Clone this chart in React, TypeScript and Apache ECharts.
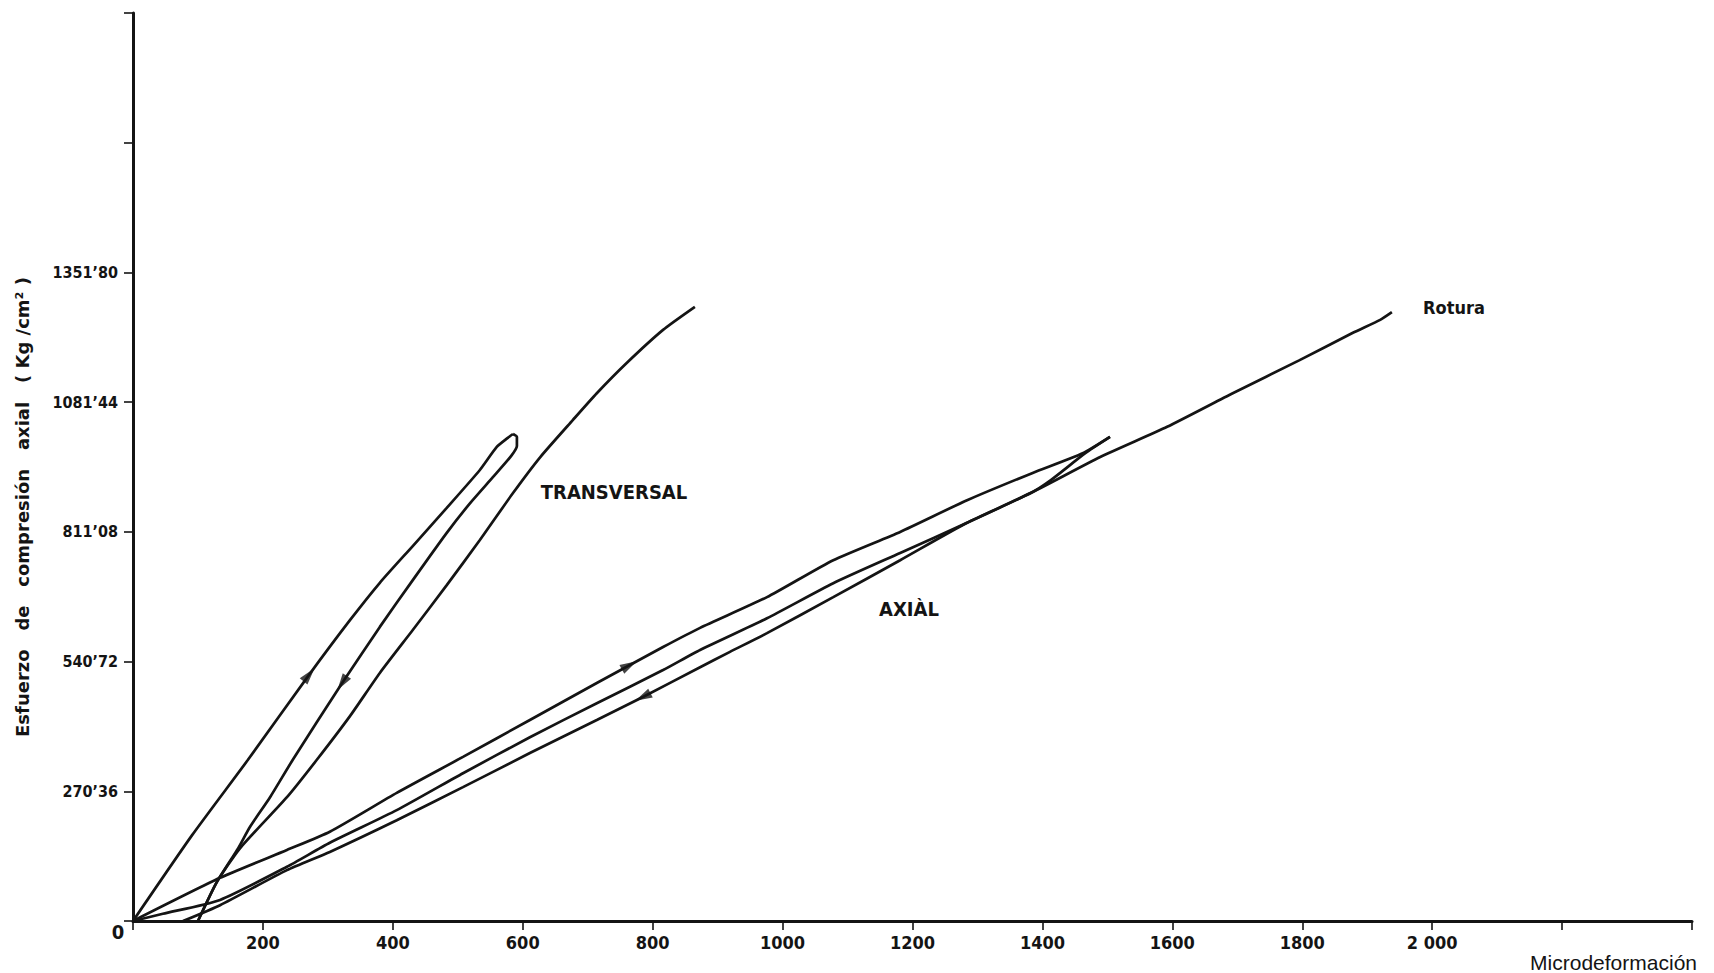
import React, { useEffect, useRef } from "react";
import * as echarts from "echarts";

// ---- axis definitions ----
const X_MIN = 0;
const X_MAX = 2400;
const X_STEP = 200;
const Y_MIN = 0;
const Y_STEP = 270.36;
const Y_MAX = 1892.52;
const yLabelledTicks = [270.36, 540.72, 811.08, 1081.44, 1351.8];

// ---- TRANSVERSAL: loading (to ~1010 kg/cm2) ----
const transLoadX = [0, 91, 177, 271, 334, 380, 431, 483, 534, 560, 577, 585];
const transLoadY = [0, 179, 336, 513, 627, 705, 782, 861, 940, 988, 1007, 1015];
// ---- TRANSVERSAL: unloading ----
const transUnloadX = [585, 591, 591, 582, 554, 519, 483, 431, 380, 322, 246, 211, 180, 162, 129, 100];
const transUnloadY = [1015, 1009, 990, 969, 925, 871, 809, 711, 613, 496, 336, 258, 196, 152, 81, 0];
// ---- TRANSVERSAL: reloading to failure ----
const transReloadX = [100, 129, 165, 237, 283, 334, 380, 431, 483, 534, 585, 627, 677, 714, 760, 816, 865];
const transReloadY = [0, 81, 152, 258, 336, 427, 517, 607, 700, 794, 892, 967, 1044, 1100, 1163, 1232, 1280];

// ---- AXIAL: loading ----
const axLoadX = [0, 134, 237, 303, 406, 508, 611, 714, 816, 873, 976, 1078, 1181, 1284, 1385, 1462, 1504];
const axLoadY = [0, 90, 148, 186, 267, 342, 419, 496, 571, 611, 675, 752, 811, 877, 934, 975, 1009];
// ---- AXIAL: unloading ----
const axUnloadX = [1504, 1466, 1413, 1382, 1284, 1181, 1078, 976, 919, 873, 785, 714, 611, 508, 406, 303, 237, 134, 77];
const axUnloadY = [1009, 975, 919, 892, 830, 752, 675, 600, 561, 529, 467, 419, 350, 279, 210, 144, 106, 33, 0];
// ---- AXIAL: reloading to failure (Rotura) ----
const axReloadX = [0, 46, 134, 237, 303, 406, 508, 611, 714, 816, 873, 976, 1078, 1181, 1284, 1385, 1489, 1592, 1693, 1796, 1878, 1920, 1938];
const axReloadY = [0, 15, 44, 113, 163, 231, 308, 383, 454, 523, 565, 631, 704, 767, 830, 894, 967, 1030, 1100, 1169, 1226, 1253, 1269];

// ---- direction arrows on the curves ----
const arrowX = [271, 322, 764, 785];
const arrowY = [513, 496, 533, 467];

// ---- texts ----
const yTitle = "Esfuerzo   de   compresión   axial   ( Kg /cm² )";
const xTitle = "Microdeformación";
const labelTransversal = "TRANSVERSAL";
const labelAxial = "AXIÀL";
const labelRotura = "Rotura";

const NARROW = "'Liberation Sans Narrow', 'DejaVu Sans Condensed', 'Arial Narrow', 'Liberation Sans', sans-serif";
const SANS = "'Liberation Sans', 'DejaVu Sans', sans-serif";
const WIDE = "'DejaVu Sans', 'Liberation Sans', sans-serif";
const INK = "#141414";

const zip = (xs: number[], ys: number[]) => xs.map((x, i) => [x, ys[i]]);

export default function App() {
  const ref = useRef<HTMLDivElement>(null);

  useEffect(() => {
    if (!ref.current) return;
    const chart = echarts.init(ref.current, undefined, { renderer: "svg" });

    const lineSeries = (name: string, xs: number[], ys: number[]) => ({
      type: "line",
      name,
      data: zip(xs, ys),
      showSymbol: false,
      smooth: 0.2,
      lineStyle: { color: INK, width: 2.7 },
      z: 3,
    });

    const rotations = [-40, 146, -61, 117];

    chart.setOption({
      animation: false,
      backgroundColor: "#ffffff",
      grid: { left: 133, right: 22, top: 13, bottom: 52, containLabel: false },
      xAxis: {
        type: "value",
        min: X_MIN,
        max: X_MAX,
        interval: X_STEP,
        splitLine: { show: false },
        axisLine: { show: true, lineStyle: { color: INK, width: 3 } },
        axisTick: { show: true, length: 9, lineStyle: { color: INK, width: 1.6 } },
        axisLabel: {
          margin: 12,
          color: INK,
          fontFamily: NARROW,
          fontWeight: "bold",
          fontSize: 18,
          formatter: (v: number) => (v === 0 || v > 2000 ? "" : v === 2000 ? "2 000" : String(v)),
        },
      },
      yAxis: {
        type: "value",
        min: Y_MIN,
        max: Y_MAX,
        interval: Y_STEP,
        splitLine: { show: false },
        axisLine: { show: true, lineStyle: { color: INK, width: 3 } },
        axisTick: { show: true, length: 9, lineStyle: { color: INK, width: 1.6 } },
        axisLabel: {
          margin: 15,
          color: INK,
          fontFamily: NARROW,
          fontWeight: "bold",
          fontSize: 16,
          formatter: (v: number) => {
            const hit = yLabelledTicks.find((t) => Math.abs(t - v) < 0.5);
            return hit === undefined ? "" : hit.toFixed(2).replace(".", "’");
          },
        },
      },
      series: [
        lineSeries("Transversal carga", transLoadX, transLoadY),
        lineSeries("Transversal descarga", transUnloadX, transUnloadY),
        lineSeries("Transversal recarga", transReloadX, transReloadY),
        lineSeries("Axial carga", axLoadX, axLoadY),
        lineSeries("Axial descarga", axUnloadX, axUnloadY),
        lineSeries("Axial recarga", axReloadX, axReloadY),
        {
          type: "scatter",
          name: "flechas",
          data: arrowX.map((x, i) => ({ value: [x, arrowY[i]], symbolRotate: rotations[i] })),
          symbol: "triangle",
          symbolSize: [10, 17],
          itemStyle: { color: INK },
          z: 4,
        },
      ],
      graphic: [
        {
          type: "text",
          x: 22,
          y: 507,
          rotation: Math.PI / 2,
          style: {
            text: yTitle,
            fill: INK,
            font: `bold 18px ${WIDE}`,
            textAlign: "center",
            textVerticalAlign: "middle",
          },
        },
        {
          type: "text",
          x: 1697,
          y: 962,
          style: {
            text: xTitle,
            fill: INK,
            font: `21px ${SANS}`,
            textAlign: "right",
            textVerticalAlign: "middle",
          },
        },
        {
          type: "text",
          x: 118,
          y: 932,
          style: {
            text: "0",
            fill: INK,
            font: `bold 20px ${NARROW}`,
            textAlign: "center",
            textVerticalAlign: "middle",
          },
        },
        {
          type: "text",
          x: 614,
          y: 492,
          style: {
            text: labelTransversal,
            fill: INK,
            font: `bold 20px ${NARROW}`,
            textAlign: "center",
            textVerticalAlign: "middle",
          },
        },
        {
          type: "text",
          x: 909,
          y: 609,
          style: {
            text: labelAxial,
            fill: INK,
            font: `bold 20px ${NARROW}`,
            textAlign: "center",
            textVerticalAlign: "middle",
          },
        },
        {
          type: "text",
          x: 1454,
          y: 307,
          style: {
            text: labelRotura,
            fill: INK,
            font: `bold 18px ${NARROW}`,
            textAlign: "center",
            textVerticalAlign: "middle",
          },
        },
      ],
    });

    return () => chart.dispose();
  }, []);

  return (
    <div
      ref={ref}
      style={{ position: "absolute", left: 0, top: 0, width: 1714, height: 973, background: "#fff" }}
    />
  );
}
